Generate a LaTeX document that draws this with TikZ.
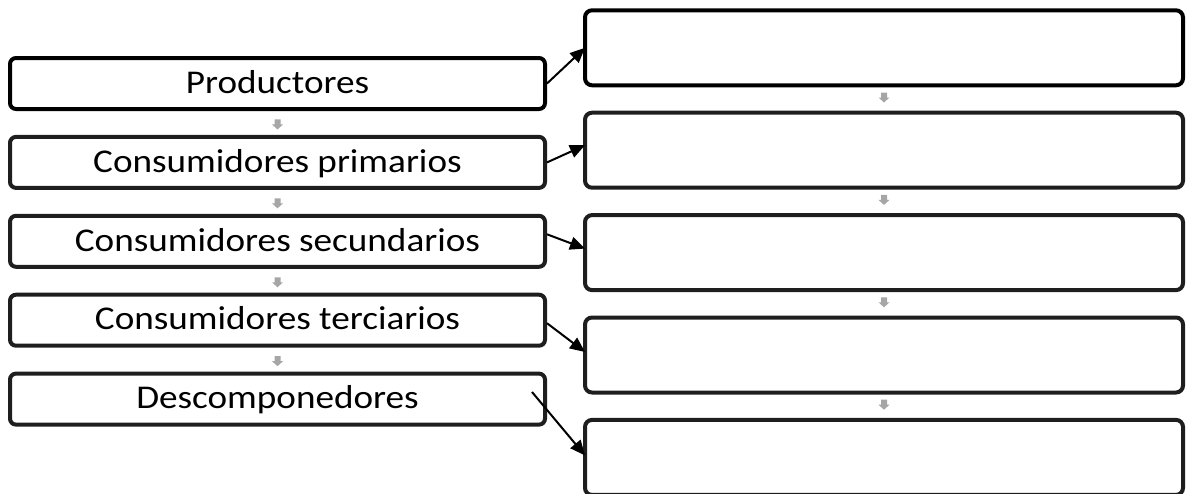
\documentclass[tikz,border=0pt]{standalone}
\usepackage{fontspec}
\setmainfont{Carlito}[FakeStretch=1.12]
\usetikzlibrary{arrows.meta,calc}
\definecolor{boxdark}{HTML}{1E1E1E}
\definecolor{arrgray}{HTML}{A6A6A6}
\begin{document}
\begin{tikzpicture}[x=1pt,y=-1pt,
  lbox/.style={draw=boxdark, line width=4pt, rounded corners=6pt,
    minimum width=535pt, minimum height=51pt, inner sep=0pt,
    font=\fontsize{33.2}{39}\selectfont, text height=26.5pt, text depth=7pt},
  rbox/.style={draw=boxdark, line width=4pt, rounded corners=7pt,
    minimum width=598pt, minimum height=75pt, inner sep=0pt},
  conn/.style={line width=2pt, -{Triangle[length=15pt,width=13pt]}},
  garrow/.pic={\fill[arrgray] (-3,-5)--(3,-5)--(3,0)--(5.5,0)--(0,5)--(-5.5,0)--(-3,0)--cycle;}
]
\useasboundingbox (0,0) rectangle (1190,493);

% left column
\node[lbox, draw=black] (L1) at (277.5,83.5) {Productores};
\node[lbox] (L2) at (277.5,162.4) {Consumidores primarios};
\node[lbox] (L3) at (277.5,241.3) {Consumidores secundarios};
\node[lbox] (L4) at (277.5,320.2) {Consumidores terciarios};
\node[lbox] (L5) at (277.5,399.1) {Descomponedores};

% right column
\node[rbox, draw=black] (R1) at (884,47.8) {};
\node[rbox] (R2) at (884,150.2) {};
\node[rbox] (R3) at (884,252.6) {};
\node[rbox] (R4) at (884,355) {};
\node[rbox] (R5) at (884,457.4) {};

% small gray arrows
\path ([yshift=-1.5pt]$(L1.south)!.5!(L2.north)$) pic {garrow};
\path ([yshift=-1.5pt]$(L2.south)!.5!(L3.north)$) pic {garrow};
\path ([yshift=-1.5pt]$(L3.south)!.5!(L4.north)$) pic {garrow};
\path ([yshift=-1.5pt]$(L4.south)!.5!(L5.north)$) pic {garrow};
\path ([yshift=1.5pt]$(R1.south)!.5!(R2.north)$) pic {garrow};
\path ([yshift=1.5pt]$(R2.south)!.5!(R3.north)$) pic {garrow};
\path ([yshift=1.5pt]$(R3.south)!.5!(R4.north)$) pic {garrow};
\path ([yshift=1.5pt]$(R4.south)!.5!(R5.north)$) pic {garrow};

% connectors
\coordinate (D5s) at (532,392);
\draw[conn] (L1.east) -- ([xshift=2pt]R1.west);
\draw[conn] (L2.east) -- ([xshift=2pt,yshift=5pt]R2.west);
\draw[conn] ([yshift=7pt]L3.east) -- ([xshift=2pt,yshift=4pt]R3.west);
\draw[conn] ([yshift=-3pt]L4.east) -- ([xshift=2pt,yshift=3pt]R4.west);
\draw[conn] (D5s) -- ([xshift=2pt,yshift=2pt]R5.west);
\end{tikzpicture}
\end{document}
